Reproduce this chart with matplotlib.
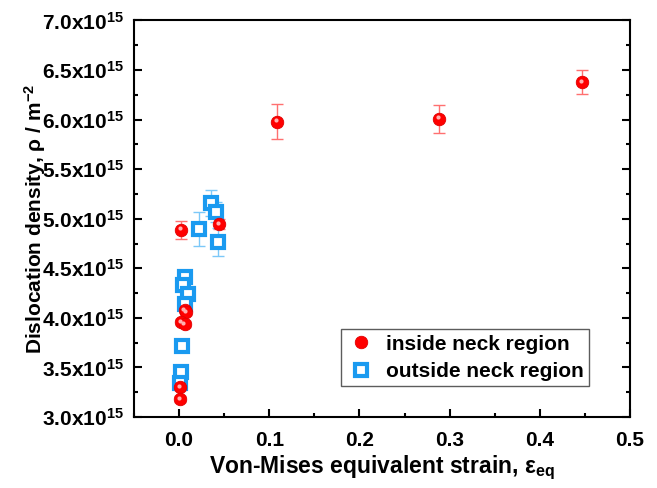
import numpy as np
import matplotlib
matplotlib.use("Agg")
from matplotlib import pyplot as plt
from matplotlib.ticker import MultipleLocator, FuncFormatter

plt.rcParams['font.family'] = ['Liberation Sans', 'DejaVu Sans']
plt.rcParams['font.weight'] = 'bold'
plt.rcParams['mathtext.fontset'] = 'custom'
plt.rcParams['mathtext.rm'] = 'Liberation Sans:bold'
plt.rcParams['mathtext.bf'] = 'Liberation Sans:bold'
plt.rcParams['mathtext.it'] = 'Liberation Sans:bold'

# inside neck region (strain, density /1e15, error /1e15)
in_x = [0.447, 0.288, 0.109, 0.0445, 0.002, 0.006, 0.008, 0.002, 0.006, 0.001, 0.001]
in_y = [6.38, 6.01, 5.98, 4.95, 4.89, 4.08, 4.06, 3.96, 3.94, 3.30, 3.18]
in_err = [0.12, 0.14, 0.18, 0.05, 0.09, 0.03, 0.03, 0.03, 0.03, 0.03, 0.03]

# outside neck region
out_x = [0.035, 0.041, 0.043, 0.0215, 0.0063, 0.0045, 0.010, 0.0067, 0.003, 0.002, 0.001]
out_y = [5.155, 5.07, 4.765, 4.895, 4.415, 4.33, 4.24, 4.14, 3.715, 3.455, 3.34]
out_err = [0.13, 0.10, 0.14, 0.17, 0.03, 0.03, 0.03, 0.03, 0.02, 0.03, 0.03]

fig = plt.figure(figsize=(6.57, 4.88), dpi=100)
ax = fig.add_axes([0.204, 0.1455, 0.755, 0.8125])

red = '#ff0000'
blue = '#1a9af0'

ax.errorbar(in_x, in_y, yerr=in_err, fmt='none', ecolor='#ff7070', elinewidth=1, capsize=4, capthick=1, zorder=2)
ax.errorbar(out_x, out_y, yerr=out_err, fmt='none', ecolor='#7cc8f8', elinewidth=1, capsize=4, capthick=1, zorder=2)

h_out, = ax.plot(out_x, out_y, 's', ms=8.5, mfc='white', mec=blue, mew=3, zorder=3, label='outside neck region')
h_in, = ax.plot(in_x, in_y, 'o', ms=9, mfc=red, mec='#e00000', mew=0.6, zorder=4, label='inside neck region')
# highlight of the sphere markers
ax.plot(np.array(in_x) - 0.0012, np.array(in_y) + 0.012, 'o', ms=3, mfc='#ffb0b0', mec='none', zorder=5)

ax.set_xlim(-0.05, 0.5)
ax.set_ylim(3.0, 7.0)
ax.xaxis.set_major_locator(MultipleLocator(0.1))
ax.xaxis.set_minor_locator(MultipleLocator(0.05))
ax.yaxis.set_major_locator(MultipleLocator(0.5))
ax.yaxis.set_minor_locator(MultipleLocator(0.25))
ax.yaxis.set_major_formatter(FuncFormatter(lambda v, p: r'$\mathbf{%.1fx10^{15}}$' % v))
ax.xaxis.set_major_formatter(FuncFormatter(lambda v, p: '%.1f' % v))

ax.tick_params(which='both', direction='in', top=True, right=True, width=1.5)
ax.tick_params(which='major', length=6, labelsize=15, pad=7)
ax.tick_params(which='minor', length=3)
ax.tick_params(axis='x', which='both', top=False)
ax.tick_params(axis='x', which='major', pad=10)
for lab in ax.get_xticklabels() + ax.get_yticklabels():
    lab.set_fontweight('bold')
for s in ax.spines.values():
    s.set_linewidth(1.5)

ax.set_xlabel(r'Von-Mises equivalent strain, ε$_{\mathbf{eq}}$', fontsize=16.5, fontweight='bold', labelpad=3)
ax.set_ylabel(r'Dislocation density, ρ / m$^{\mathbf{-2}}$', fontsize=15, fontweight='bold', labelpad=-4)

leg = ax.legend(handles=[h_in, h_out], loc='lower right', bbox_to_anchor=(0.917, 0.078),
                fontsize=15, frameon=True, fancybox=False, edgecolor='#333333', borderaxespad=0,
                handletextpad=0.5, borderpad=0.25, labelspacing=0.4, handlelength=1.4)
leg.get_frame().set_linewidth(1.0)

fig.savefig('out.png', dpi=100)
